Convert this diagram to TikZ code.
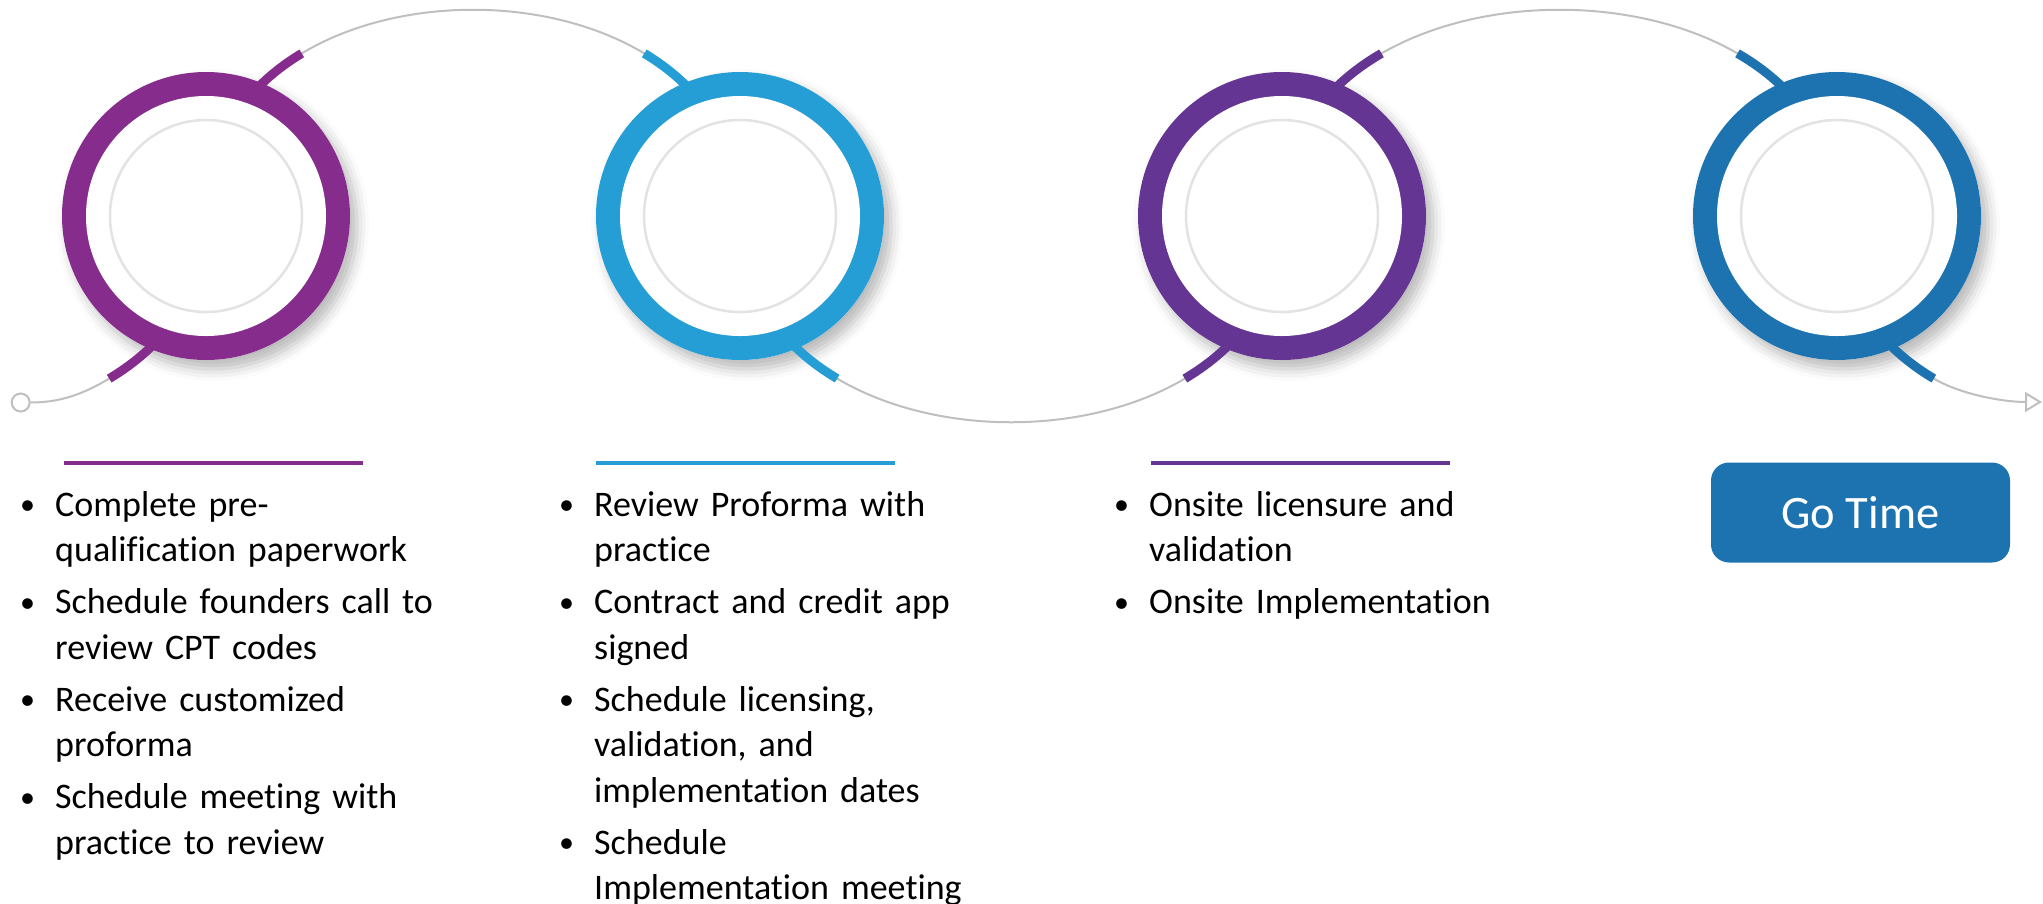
\documentclass[tikz,border=0pt]{standalone}
\usepackage{fontspec}
\setmainfont{Carlito}[Ligatures=NoCommon]
\usetikzlibrary{calc,arrows.meta,shadows.blur}
\definecolor{cpurple}{HTML}{862C8C}
\definecolor{cblue}{HTML}{259ED6}
\definecolor{cviolet}{HTML}{643592}
\definecolor{cnavy}{HTML}{1D73AF}
\definecolor{cgray}{HTML}{BFBFBF}
\newcommand\segarc[5]{\draw[segline,draw=#5] (#1) .. controls ($(#1)+(0,#3*74.25)$) and ($(#1)+(#2*0.0729*#4,#3*128.5)$) .. ($(#1)+(#2*0.1793*#4,#3*162.6)$);}
\newcommand\bitem[1]{\par\hangindent=35pt\hangafter=1\noindent\makebox[35pt][l]{\strut\raisebox{1.5pt}{\fontsize{30}{30}\selectfont\textbullet}}#1}
\begin{document}
\begin{tikzpicture}[x=1pt,y=-1pt,
 grayline/.style={draw=cgray,line width=2pt},
 segline/.style={line width=9pt},
 shadowdisk/.style={circle,inner sep=0pt,minimum size=288pt,fill=white,blur shadow={shadow xshift=7pt,shadow yshift=-9pt,shadow blur radius=12pt,shadow opacity=28}},
 ringdisk/.style={circle,inner sep=0pt,minimum size=288pt,fill=#1},
 hole/.style={circle,inner sep=0pt,minimum size=240pt,fill=white},
 innerdisk/.style={circle,inner sep=0pt,minimum size=192pt,fill=white,draw=black!11,line width=2.5pt},
 rulebar/.style={line width=4pt},
 listtext/.style={anchor=north west,inner sep=0pt,text width=460pt,align=left,font=\fontsize{36}{45.5}\selectfont},
 gobtn/.style={rounded corners=18pt,fill=cnavy,text=white,minimum width=299pt,minimum height=100pt,inner sep=0pt,font=\fontsize{46.5}{56}\selectfont},
 startdot/.style={circle,draw=cgray,line width=2pt,fill=white,minimum size=18pt,inner sep=0pt}
]
\useasboundingbox (0,0) rectangle (2043,903);
\coordinate (c1) at (206,216);
\coordinate (c2) at (740,216);
\coordinate (c3) at (1282,216);
\coordinate (c4) at (1837,216);
\coordinate (e1) at ($(c1)+(-96.8,162.6)$);
\coordinate (e4) at ($(c4)+(96.8,162.6)$);
\coordinate (tip) at (2042,402);
\foreach \c in {c1,c2,c3,c4} \node[shadowdisk] at (\c) {};
\node[startdot] (s) at (20.7,402.5) {};
\draw[grayline,-{Triangle[open,length=17pt,width=20pt]}] (s.east)
 .. controls ($(s.east)+(30,0)$) and ($(e1)+(-25.8,15.3)$) .. (e1)
 .. controls ($(c1)+(-39.4,128.5)$) and ($(c1)+(0,74.25)$) .. (c1)
 .. controls ($(c1)+(0,-275)$) and ($(c2)+(0,-275)$) .. (c2)
 .. controls ($(c2)+(0,275)$) and ($(c3)+(0,275)$) .. (c3)
 .. controls ($(c3)+(0,-275)$) and ($(c4)+(0,-275)$) .. (c4)
 .. controls ($(c4)+(0,74.25)$) and ($(c4)+(39.4,128.5)$) .. (e4)
 .. controls ($(e4)+(25.8,15.3)$) and ($(tip)+(-40,0)$) .. (tip);
\segarc{c1}{-1}{1}{540}{cpurple}
\segarc{c1}{1}{-1}{534}{cpurple}
\segarc{c2}{-1}{-1}{534}{cblue}
\segarc{c2}{1}{1}{542}{cblue}
\segarc{c3}{-1}{1}{542}{cviolet}
\segarc{c3}{1}{-1}{555}{cviolet}
\segarc{c4}{-1}{-1}{555}{cnavy}
\segarc{c4}{1}{1}{540}{cnavy}
\node[ringdisk=cpurple] (ring1) at (c1) {};
\node[ringdisk=cblue] (ring2) at (c2) {};
\node[ringdisk=cviolet] (ring3) at (c3) {};
\node[ringdisk=cnavy] (ring4) at (c4) {};
\foreach \c in {c1,c2,c3,c4} {\node[hole] at (\c) {}; \node[innerdisk] at (\c) {};}
\draw[rulebar,cpurple] (64,463) -- (363,463);
\draw[rulebar,cblue] (596,463) -- (895,463);
\draw[rulebar,cviolet] (1151,463) -- (1450,463);
\node[listtext] (t1) at (20,464) {\setlength\parskip{6.5pt}\bitem{Complete pre-\newline qualification paperwork}\bitem{Schedule founders call to\newline review CPT codes}\bitem{Receive customized\newline proforma}\bitem{Schedule meeting with\newline practice to review}\par};
\node[listtext] (t2) at (559,464) {\setlength\parskip{6.5pt}\bitem{Review Proforma with\newline practice}\bitem{Contract and credit app\newline signed}\bitem{Schedule licensing,\newline validation, and\newline implementation dates}\bitem{Schedule\newline Implementation meeting}\par};
\node[listtext] (t3) at (1114,464) {\setlength\parskip{6.5pt}\bitem{Onsite licensure and\newline validation}\bitem{Onsite Implementation}\par};
\node[gobtn] (go) at (1860.5,512.5) {Go Time};
\end{tikzpicture}
\end{document}
